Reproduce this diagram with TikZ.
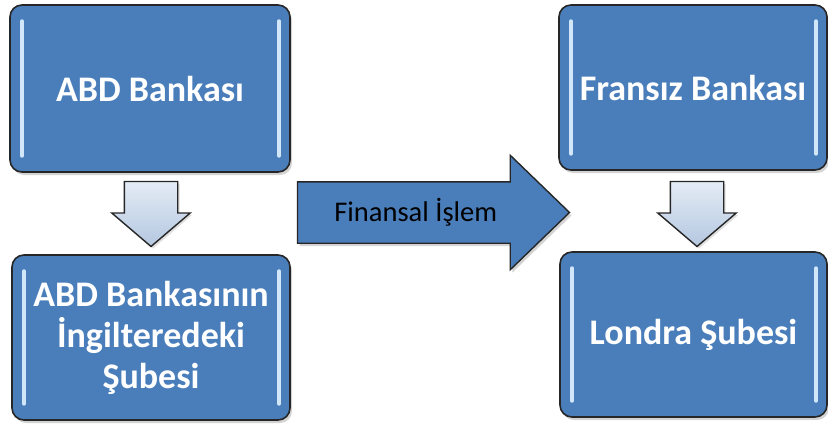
\documentclass[tikz,border=0pt]{standalone}
\usepackage{fontspec}
\setmainfont{Carlito}
\usetikzlibrary{shapes.arrows,shadows,calc}
\definecolor{boxblue}{HTML}{4A7EBB}
\definecolor{edgegray}{HTML}{262626}
\definecolor{glint}{HTML}{D2E6FA}
\definecolor{arrowtop}{HTML}{E4ECF6}
\definecolor{arrowbot}{HTML}{B4C7E0}

\begin{document}
\begin{tikzpicture}[
	x=1pt,y=1pt,
	bankbox/.style={
		rectangle,rounded corners=12pt,draw=edgegray,line width=1.6pt,
		fill=boxblue,text=white,align=center,inner sep=0pt,
		font=\bfseries\fontsize{36}{41}\selectfont,
		drop shadow={opacity=0.35,shadow xshift=2pt,shadow yshift=-3pt},
		path picture={
			\draw[glint,line width=3.4pt,line cap=round]
				([xshift=12pt,yshift=-16pt]path picture bounding box.north west) --
				([xshift=12pt,yshift=16pt]path picture bounding box.south west);
			\draw[glint,line width=3.4pt,line cap=round]
				([xshift=-11pt,yshift=-16pt]path picture bounding box.north east) --
				([xshift=-11pt,yshift=16pt]path picture bounding box.south east);
		}},
	downarrow/.style={
		single arrow,draw=edgegray,line width=1.4pt,rotate=-90,
		top color=arrowtop,bottom color=arrowbot,
		minimum height=65pt,minimum width=0pt,inner xsep=0pt,inner ysep=26pt,
		single arrow head extend=12.5pt,single arrow tip angle=99,
		drop shadow={opacity=0.25,shadow xshift=2pt,shadow yshift=-2pt}},
	dealarrow/.style={
		single arrow,draw=edgegray,line width=1.4pt,fill=boxblue,
		minimum height=272pt,minimum width=0pt,inner xsep=0pt,inner ysep=30pt,
		single arrow head extend=26.5pt,single arrow tip angle=88,
		drop shadow={opacity=0.35,shadow xshift=2pt,shadow yshift=-3pt}},
	dealtext/.style={font=\fontsize{28.5}{30}\selectfont,text=black}
	]
	\useasboundingbox (0,0) rectangle (828,-424);
	% banks and branches
	\node [bankbox, minimum width=280pt, minimum height=167pt] (usa) at (150,-88.5) {ABD Bankası};
	\node [bankbox, minimum width=278pt, minimum height=165pt] (usaBranch) at (151,-337.5) {ABD Bankasının\\İngilteredeki\\Şubesi};
	\node [bankbox, minimum width=268pt, minimum height=165pt] (fr) at (693,-87.5) {Fransız Bankası};
	\node [bankbox, minimum width=267pt, minimum height=165pt] (frBranch) at (693.5,-334.5) {Londra Şubesi};
	% down arrows
	\node [downarrow, anchor=tail] (usaDown) at ($(usa.south)+(1,-8)$) {};
	\node [downarrow, anchor=tail] (frDown) at ($(fr.south)+(4,-10)$) {};
	% transaction arrow
	\node [dealarrow, anchor=tail] (deal) at ($(usa.east)+(6,-124)$) {};
	\node [dealtext] (dealLabel) at ($(deal.tail)+(119,0)$) {Finansal İşlem};
\end{tikzpicture}
\end{document}
